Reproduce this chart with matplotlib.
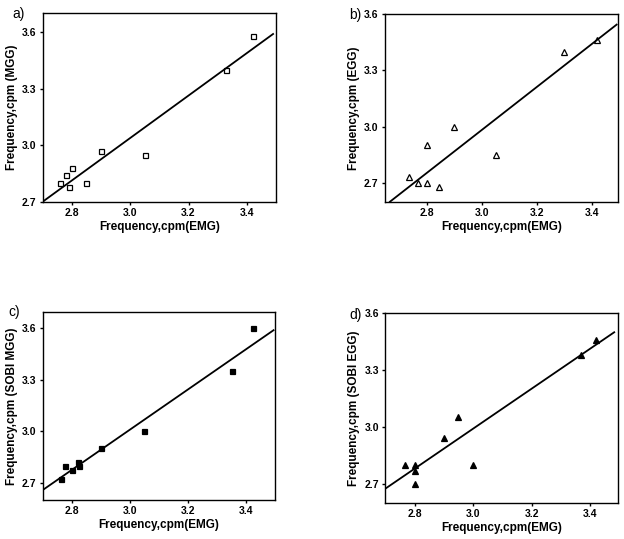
import matplotlib
matplotlib.use("Agg")
import matplotlib.pyplot as plt
import numpy as np

plt.rcParams['font.family'] = ['Liberation Sans', 'DejaVu Sans']
plt.rcParams['font.weight'] = 'bold'

# Panel a: MGG vs EMG
a_x = [2.76, 2.78, 2.79, 2.80, 2.85, 2.90, 3.05, 3.33, 3.42]
a_y = [2.80, 2.84, 2.78, 2.88, 2.80, 2.97, 2.95, 3.40, 3.58]
a_line = [1.127, -0.343]   # slope, intercept
a_line_x = [2.70, 3.49]

# Panel b: EGG vs EMG
b_x = [2.736, 2.766, 2.80, 2.80, 2.844, 2.90, 3.05, 3.30, 3.42]
b_y = [2.73, 2.70, 2.70, 2.90, 2.68, 3.00, 2.85, 3.40, 3.46]
b_line = [1.144, -0.449]
b_line_x = [2.665, 3.49]

# Panel c: SOBI MGG vs EMG
c_x = [2.762, 2.776, 2.80, 2.82, 2.826, 2.90, 3.05, 3.35, 3.424]
c_y = [2.72, 2.80, 2.775, 2.82, 2.80, 2.90, 3.00, 3.35, 3.60]
c_line = [1.171, -0.504]
c_line_x = [2.70, 3.494]

# Panel d: SOBI EGG vs EMG
d_x = [2.766, 2.80, 2.80, 2.80, 2.90, 2.95, 3.00, 3.37, 3.42]
d_y = [2.80, 2.80, 2.77, 2.70, 2.94, 3.05, 2.80, 3.38, 3.46]
d_line = [1.056, -0.177]
d_line_x = [2.70, 3.482]

x_ticks = [2.8, 3.0, 3.2, 3.4]
y_ticks = [2.7, 3.0, 3.3, 3.6]
x_label = "Frequency,cpm(EMG)"

fig = plt.figure(figsize=(6.24, 5.39), dpi=100)

panels = [
    dict(pos=[0.0684, 0.6258, 0.3739, 0.3495], x=a_x, y=a_y, line=a_line, lx=a_line_x,
         marker='s', fill='none', ylabel="Frequency,cpm (MGG)", xlim=(2.70, 3.50), ylim=(2.70, 3.70),
         tag="a)", tagpos=(12, 14)),
    dict(pos=[0.6165, 0.6258, 0.3739, 0.3482], x=b_x, y=b_y, line=b_line, lx=b_line_x,
         marker='^', fill='none', ylabel="Frequency,cpm (EGG)", xlim=(2.646, 3.495), ylim=(2.60, 3.60),
         tag="b)", tagpos=(349, 15)),
    dict(pos=[0.0684, 0.0724, 0.3728, 0.3493], x=c_x, y=c_y, line=c_line, lx=c_line_x,
         marker='s', fill='k', ylabel="Frequency,cpm (SOBI MGG)", xlim=(2.70, 3.50), ylim=(2.60, 3.695),
         tag="c)", tagpos=(8, 312)),
    dict(pos=[0.6175, 0.0673, 0.3729, 0.3514], x=d_x, y=d_y, line=d_line, lx=d_line_x,
         marker='^', fill='k', ylabel="Frequency,cpm (SOBI EGG)", xlim=(2.70, 3.495), ylim=(2.60, 3.60),
         tag="d)", tagpos=(349, 315)),
]

for p in panels:
    ax = fig.add_axes(p['pos'])
    ax.plot(p['x'], p['y'], linestyle='none', marker=p['marker'], markersize=4.2 if p['marker'] == '^' else 3.6,
            markerfacecolor=p['fill'], markeredgecolor='k', markeredgewidth=0.9)
    lx = np.array(p['lx'])
    ax.plot(lx, p['line'][0] * lx + p['line'][1], color='k', lw=1.3)
    ax.set_xlim(*p['xlim'])
    ax.set_ylim(*p['ylim'])
    ax.set_xticks(x_ticks)
    ax.set_yticks(y_ticks)
    ax.set_xticklabels([f"{t:.1f}" for t in x_ticks], fontsize=7.5, fontweight='bold')
    ax.set_yticklabels([f"{t:.1f}" for t in y_ticks], fontsize=7.5, fontweight='bold')
    ax.tick_params(direction='out', length=2.5, width=1.0, pad=2, top=False, right=False)
    for s in ax.spines.values():
        s.set_linewidth(1.0)
    ax.set_xlabel(x_label, fontsize=8.5, fontweight='bold', labelpad=2)
    ax.set_ylabel(p['ylabel'], fontsize=8.5, fontweight='bold', labelpad=3)
    fig.text(p['tagpos'][0] / 624, 1 - p['tagpos'][1] / 539, p['tag'], fontsize=10,
             fontweight='normal', ha='left', va='center')

fig.savefig("out.png", dpi=100)
